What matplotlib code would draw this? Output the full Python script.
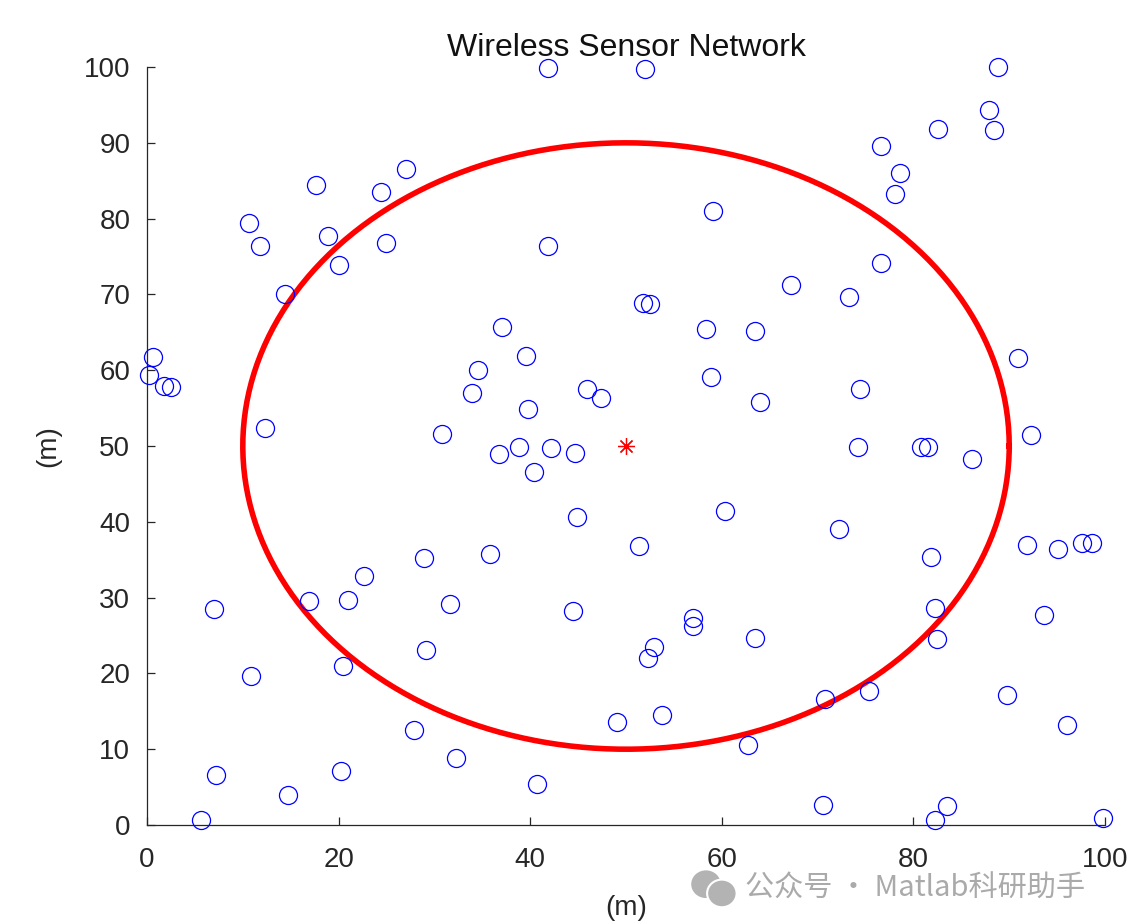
import numpy as np
import matplotlib
matplotlib.use("Agg")
import matplotlib.pyplot as plt
from matplotlib.patches import Ellipse

plt.rcParams['font.family'] = ['Liberation Sans', 'DejaVu Sans']

# Sensor node coordinates (m)
node_x = [0.6, 0.2, 1.8, 2.5, 5.6, 7.0, 7.2, 10.6, 11.8, 10.9,
          12.3, 14.4, 14.7, 16.9, 17.6, 18.9, 20.0, 20.3, 20.5, 21.0,
          22.7, 24.4, 24.9, 27.0, 27.9, 28.9, 29.1, 30.8, 31.6, 32.3,
          33.9, 34.6, 35.8, 36.7, 37.1, 38.8, 39.6, 39.8, 40.4, 40.7,
          41.9, 41.9, 42.2, 44.5, 44.7, 44.9, 45.9, 47.4, 49.1, 51.4,
          52.0, 51.8, 52.5, 52.3, 52.9, 53.8, 57.0, 57.0, 58.4, 58.9,
          59.1, 60.3, 62.7, 63.5, 63.5, 64.0, 67.2, 70.6, 70.8, 72.2,
          73.3, 74.2, 74.4, 75.4, 76.6, 76.6, 78.1, 78.6, 80.8, 81.5,
          81.8, 82.2, 82.2, 82.5, 82.6, 83.5, 86.1, 87.9, 88.4, 88.8,
          89.8, 90.9, 91.9, 92.3, 93.6, 95.1, 96.0, 97.6, 98.6, 99.8]
node_y = [61.7, 59.4, 57.9, 57.8, 0.7, 28.5, 6.6, 79.4, 76.4, 19.7,
          52.4, 70.1, 4.0, 29.6, 84.4, 77.7, 73.9, 7.1, 21.0, 29.7,
          32.8, 83.5, 76.8, 86.5, 12.5, 35.2, 23.1, 51.6, 29.2, 8.8,
          57.0, 60.0, 35.8, 48.9, 65.7, 49.9, 61.9, 54.9, 46.6, 5.4,
          99.9, 76.4, 49.7, 28.2, 49.1, 40.6, 57.5, 56.3, 13.6, 36.8,
          99.7, 68.9, 68.7, 22.0, 23.5, 14.5, 27.3, 26.3, 65.4, 59.1,
          81.0, 41.4, 10.6, 65.2, 24.7, 55.8, 71.2, 2.6, 16.6, 39.1,
          69.7, 49.9, 57.5, 17.7, 89.6, 74.1, 83.2, 86.0, 49.9, 49.9,
          35.4, 0.7, 28.6, 24.5, 91.8, 2.5, 48.3, 94.3, 91.7, 100.0,
          17.2, 61.6, 36.9, 51.5, 27.7, 36.4, 13.2, 37.2, 37.2, 0.9]

center = (50, 50)
radius = 40
yticks = [0, 10, 20, 30, 40, 50, 60, 70, 80, 90, 100]
xticks = [0, 20, 40, 60, 80, 100]

fig = plt.figure(figsize=(11.35, 9.22), dpi=100)
ax = fig.add_axes([0.1295, 0.1052, 0.8441, 0.8221])

ax.plot(node_x, node_y, linestyle='none', marker='o', markersize=13,
        markerfacecolor='none', markeredgecolor='blue', markeredgewidth=0.9,
        clip_on=False, zorder=3)

theta = np.linspace(0, 2 * np.pi, 400)
ax.plot(center[0] + radius * np.cos(theta), center[1] + radius * np.sin(theta),
        color='red', linewidth=4.0, zorder=2)

ax.plot([center[0]], [center[1]], linestyle='none', marker=(8, 2, 0),
        markersize=12, color='red', markeredgewidth=0.9, zorder=4)

ax.set_xlim(0, 100)
ax.set_ylim(0, 100)
ax.set_xticks(xticks)
ax.set_yticks(yticks)
for s in ['top', 'right']:
    ax.spines[s].set_visible(False)
for s in ['left', 'bottom']:
    ax.spines[s].set_color('#262626')
    ax.spines[s].set_linewidth(0.9)
ax.tick_params(direction='in', length=6, width=0.9, colors='#262626',
               labelsize=20)
ax.tick_params(axis='y', pad=12)
ax.tick_params(axis='x', pad=16)

ax.set_title('Wireless Sensor Network', fontsize=23, color='#111111', pad=8)
ax.set_xlabel('(m)', fontsize=20, color='#262626', labelpad=16)
ax.set_ylabel('(m)', fontsize=20, color='#262626', labelpad=16)

# watermark
fig.text(0.656, 0.036, '公众号 · Matlab科研助手', fontsize=21, color='#aaaaaa',
         family=['Noto Sans CJK SC', 'DejaVu Sans'], va='center', zorder=0)
fig.patches.append(Ellipse((0.622, 0.041), 0.026, 0.030, transform=fig.transFigure,
                           facecolor='#b3b3b3', edgecolor='none', figure=fig))
fig.patches.append(Ellipse((0.636, 0.031), 0.026, 0.030, transform=fig.transFigure,
                           facecolor='#b3b3b3', edgecolor='white', linewidth=1.5,
                           figure=fig))

fig.savefig('out.png', dpi=100)
